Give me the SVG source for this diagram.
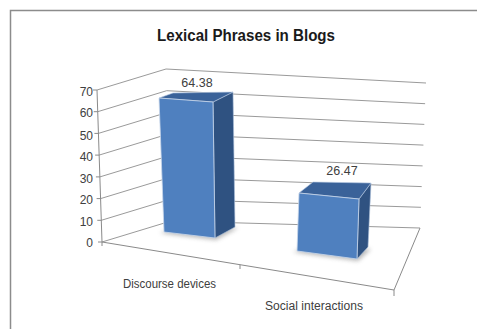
<svg xmlns="http://www.w3.org/2000/svg" width="477" height="329" viewBox="0 0 477 329">
<defs>
<style>
.grid{fill:none;stroke:#9a9a9a;stroke-width:1}
.axis{fill:none;stroke:#8a8a8a;stroke-width:1}
.ylab{font-family:"Liberation Sans",Arial,sans-serif;font-size:12px;fill:#404040;text-anchor:end}
.val{font-family:"Liberation Sans",Arial,sans-serif;font-size:12.5px;fill:#404040;text-anchor:middle}
.cat{font-family:"Liberation Sans",Arial,sans-serif;font-size:12px;fill:#404040}
.front{fill:#4f80bf;stroke:#c9d7ea;stroke-width:0.8}
.side{fill:#2f5281;stroke:#a9bdd8;stroke-width:0.6}
.top{fill:#3a6299;stroke:#b5c7e0;stroke-width:0.6}
</style>
<filter id="sh" x="-20%" y="-50%" width="140%" height="200%"><feGaussianBlur stdDeviation="2"/></filter>
</defs>
<rect width="477" height="329" fill="#ffffff"/>
<path d="M10.5 329 V10.5 H477" fill="none" stroke="#8c8c8c" stroke-width="1.5"/>
<text x="246" y="41" font-family="'Liberation Sans',Arial,sans-serif" font-size="16" font-weight="bold" fill="#1a1a1a" text-anchor="middle" textLength="178" lengthAdjust="spacingAndGlyphs">Lexical Phrases in Blogs</text>
<g id="walls">
<polyline class="grid" points="102,242 171,221 420,228"/>
<polyline class="grid" points="101.3,220.3 170.3,199.3 420.9,207.3"/>
<polyline class="grid" points="100.6,198.6 169.6,177.6 421.7,186.6"/>
<polyline class="grid" points="99.9,176.9 168.9,155.9 422.6,165.9"/>
<polyline class="grid" points="99.1,155.1 168.1,134.1 423.4,145.1"/>
<polyline class="grid" points="98.4,133.4 167.4,112.4 424.3,124.4"/>
<polyline class="grid" points="97.7,111.7 166.7,90.7 425.1,103.7"/>
<polyline class="grid" points="97,90 166,69 426,83"/>
<polyline class="axis" points="102,242 394,290 420,228"/>
<line class="axis" x1="97" y1="90" x2="102" y2="242"/>
<path class="axis" d="M98,242 H102 M97.3,220.3 H101.3 M96.6,198.6 H100.6 M95.9,176.9 H99.9 M95.1,155.1 H99.1 M94.4,133.4 H98.4 M93.7,111.7 H97.7 M93,90 H97 M102,242 V246 M240,264.7 V269 M394,290 V296"/>
</g>
<g id="yaxis-labels">
<text class="ylab" x="93" y="247">0</text>
<text class="ylab" x="93" y="226">10</text>
<text class="ylab" x="93" y="204">20</text>
<text class="ylab" x="93" y="183">30</text>
<text class="ylab" x="93" y="161">40</text>
<text class="ylab" x="93" y="140">50</text>
<text class="ylab" x="93" y="117">60</text>
<text class="ylab" x="93" y="96">70</text>
</g>
<g id="bar-discourse">
<polygon points="160,233 216,240 238,228 180,226" fill="#9a9a9a" opacity="0.7" filter="url(#sh)"/>
<polygon class="side" points="213,102 233,92 235,227 215,238"/>
<polygon class="top" points="159,98 173,93 233,92 213,102"/>
<polygon class="front" points="159,98 213,102 215,238 164,232"/>
<text class="val" x="197" y="87">64.38</text>
</g>
<g id="bar-social">
<polygon points="293,252 358,261 371,249 310,246" fill="#9a9a9a" opacity="0.7" filter="url(#sh)"/>
<polygon class="side" points="359,199 371,183 368,247 357,259"/>
<polygon class="top" points="299,193 313,182 371,183 359,199"/>
<polygon class="front" points="299,193 359,199 357,259 297,251"/>
<text class="val" x="342" y="175">26.47</text>
</g>
<g id="categories">
<text class="cat" x="123" y="288" textLength="93" lengthAdjust="spacingAndGlyphs">Discourse devices</text>
<text class="cat" x="265" y="310" textLength="98" lengthAdjust="spacingAndGlyphs">Social interactions</text>
</g>
</svg>
